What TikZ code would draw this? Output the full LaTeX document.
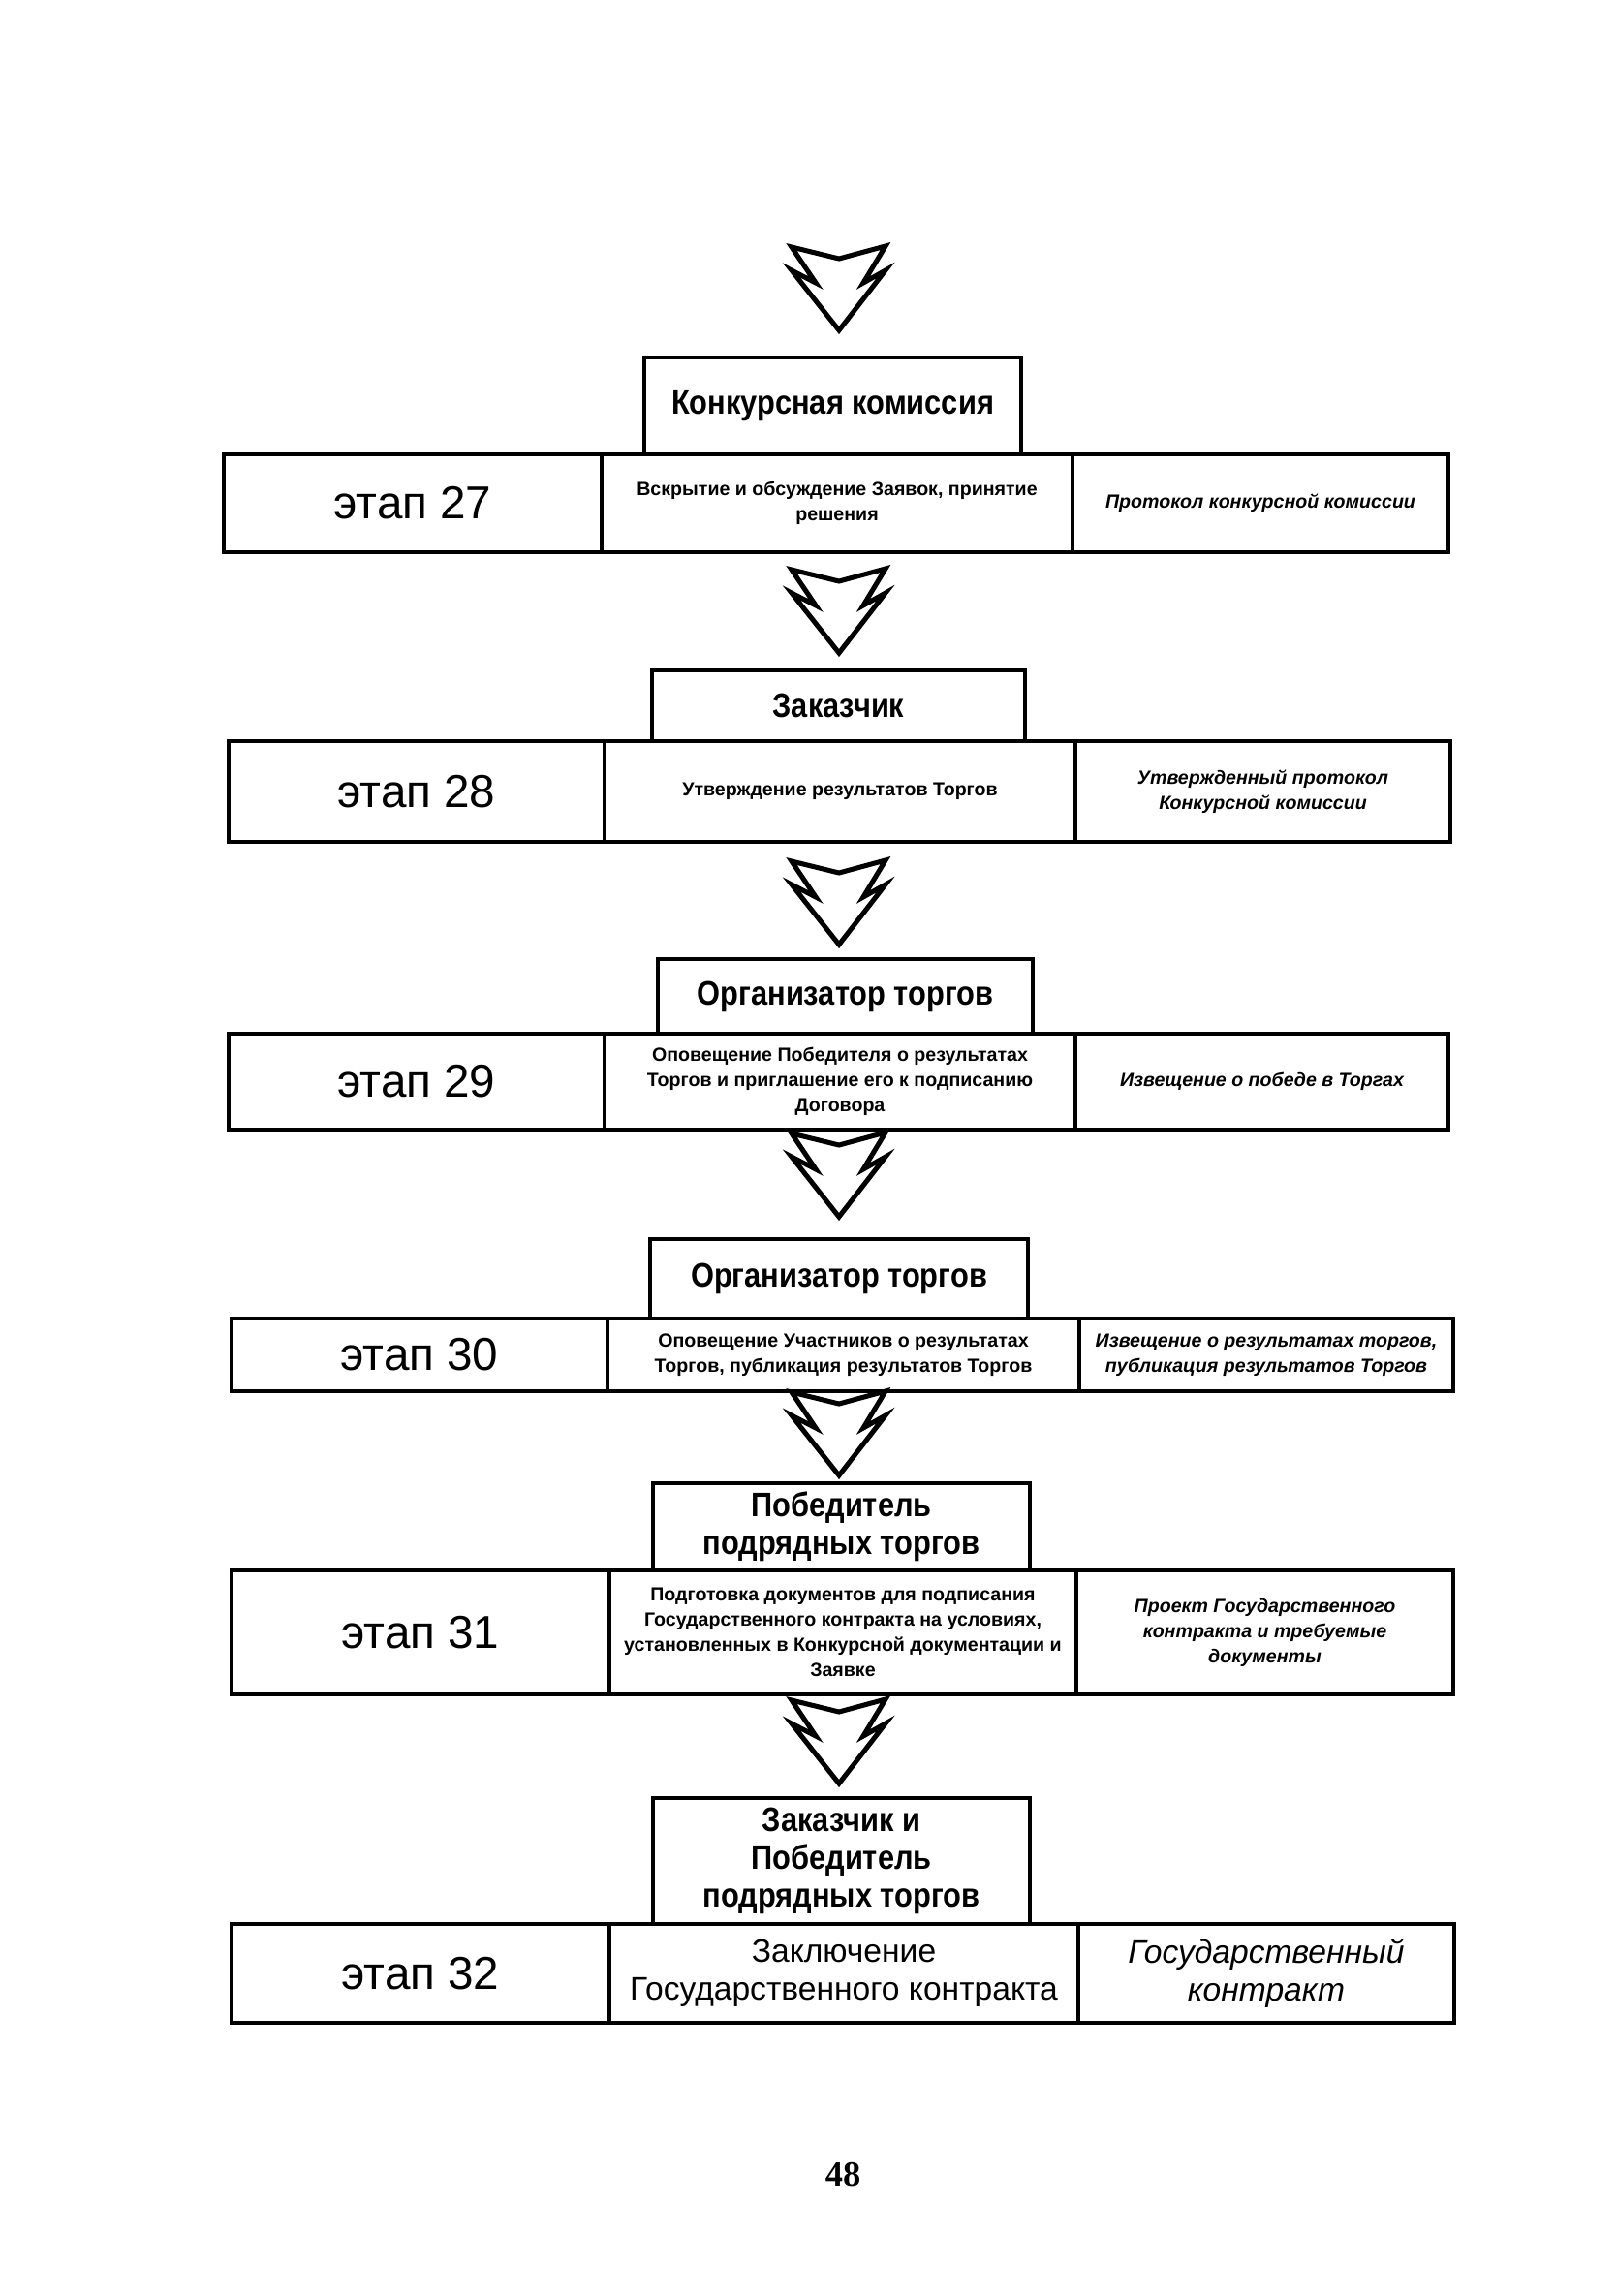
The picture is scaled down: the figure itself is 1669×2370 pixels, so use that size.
\documentclass[tikz,border=0pt]{standalone}
\usepackage{fontspec}
\setmainfont{Liberation Sans}
\newfontfamily\actorfam[FakeStretch=0.88]{Liberation Sans}
\newfontfamily\pagenumfam{Liberation Serif}
\def\pxu{0.357pt}
\newcommand\boxat[7]{\node[#2, minimum width={((#5)-(#3))*\pxu}, minimum height={((#6)-(#4))*\pxu}] (#1) at ({((#3)+(#5))/2},{((#4)+(#6))/2}) {#7};}
\tikzset{
  cell/.style={draw, line width=1.3pt, rectangle, inner sep=0pt, outer sep=0pt, align=center},
  actor/.style={cell, font=\actorfam\bfseries\fontsize{12.5}{14}\selectfont},
  stagebox/.style={cell, font=\fontsize{17}{20}\selectfont},
  actbox/.style={cell, font=\bfseries\fontsize{7}{9.3}\selectfont},
  docbox/.style={cell, font=\bfseries\itshape\fontsize{7}{9.3}\selectfont},
  actboxbig/.style={cell, font=\fontsize{12}{14}\selectfont},
  docboxbig/.style={cell, font=\itshape\fontsize{12}{14}\selectfont},
  zzline/.style={draw, line width=1.8pt, line join=miter},
  zz/.pic={\draw[zzline] (-49,0) -- (0,12) -- (48,-1) -- (25,37) -- (48,24) -- (0,86) -- (-49,24) -- (-24,37) -- cycle;}
}
\begin{document}
\begin{tikzpicture}[x=0.357pt, y=-0.357pt]
\fill[white] (0,0) rectangle (1669,2370);
\path[use as bounding box] (0,0) rectangle (1669,2370);

% arrows
\pic at (866,255) {zz};
\pic at (866,588) {zz};
\pic at (866,889) {zz};
\pic at (866,1170) {zz};
\pic at (866,1437) {zz};
\pic at (866,1755) {zz};

% stage 27
\boxat{a27}{actor}{665}{369}{1054}{469}{Конкурсная комиссия}
\boxat{s27}{stagebox}{231}{469}{621}{570}{этап 27}
\boxat{m27}{actbox}{621}{469}{1107}{570}{Вскрытие и обсуждение Заявок, принятие\\решения}
\boxat{d27}{docbox}{1107}{469}{1495}{570}{Протокол конкурсной комиссии}

% stage 28
\boxat{a28}{actor}{673}{692}{1058}{765}{Заказчик}
\boxat{s28}{stagebox}{236}{765}{624}{869}{этап 28}
\boxat{m28}{actbox}{624}{765}{1110}{869}{Утверждение результатов Торгов}
\boxat{d28}{docbox}{1110}{765}{1497}{869}{Утвержденный протокол\\Конкурсной комиссии}

% stage 29
\boxat{a29}{actor}{679}{990}{1066}{1067}{Организатор торгов}
\boxat{s29}{stagebox}{236}{1067}{624}{1166}{этап 29}
\boxat{m29}{actbox}{624}{1067}{1110}{1166}{Оповещение Победителя о результатах\\Торгов и приглашение его к подписанию\\Договора}
\boxat{d29}{docbox}{1110}{1067}{1495}{1166}{Извещение о победе в Торгах}

% stage 30
\boxat{a30}{actor}{671}{1279}{1061}{1361}{Организатор торгов}
\boxat{s30}{stagebox}{239}{1361}{627}{1436}{этап 30}
\boxat{m30}{actbox}{627}{1361}{1114}{1436}{Оповещение Участников о результатах\\Торгов, публикация результатов Торгов}
\boxat{d30}{docbox}{1114}{1361}{1500}{1436}{Извещение о результатах торгов,\\публикация результатов Торгов}

% stage 31
\boxat{a31}{actor}{674}{1531}{1063}{1621}{Победитель\\подрядных торгов}
\boxat{s31}{stagebox}{239}{1621}{629}{1749}{этап 31}
\boxat{m31}{actbox}{629}{1621}{1111}{1749}{Подготовка документов для подписания\\Государственного контракта на условиях,\\установленных в Конкурсной документации и\\Заявке}
\boxat{d31}{docbox}{1111}{1621}{1500}{1749}{Проект Государственного\\контракта и требуемые\\документы}

% stage 32
\boxat{a32}{actor}{674}{1856}{1063}{1986}{Заказчик и\\Победитель\\подрядных торгов}
\boxat{s32}{stagebox}{239}{1986}{629}{2088}{этап 32}
\boxat{m32}{actboxbig}{629}{1986}{1113}{2088}{Заключение\\Государственного контракта}
\boxat{d32}{docboxbig}{1113}{1986}{1501}{2088}{Государственный\\контракт}

% page number
\node[font=\pagenumfam\bfseries\fontsize{13}{15}\selectfont, inner sep=0pt] (pnum) at (870,2245) {48};
\end{tikzpicture}
\end{document}
